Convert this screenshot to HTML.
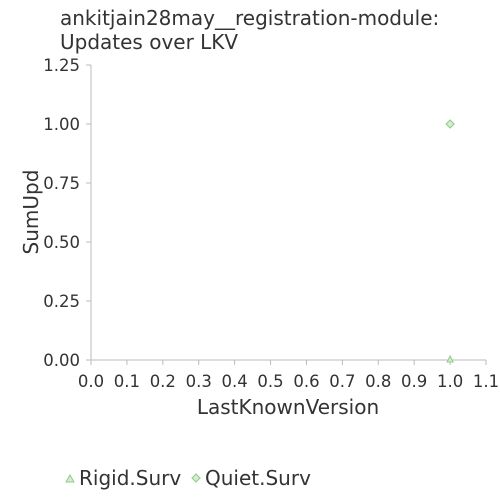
<!DOCTYPE html>
<html><head><meta charset="utf-8"><style>
body{margin:0;background:#fff;font-family:"DejaVu Sans","Liberation Sans",sans-serif;}
svg text{font-family:"DejaVu Sans","Liberation Sans",sans-serif;fill:#333;}
</style></head><body>
<svg width="500" height="500">
<text x="60" y="25" font-size="20">ankitjain28may__registration-module:</text>
<text x="60" y="49" font-size="20">Updates over LKV</text>
<g id="axes"></g>
<g id="marks"></g>
<text x="288" y="414" font-size="20" text-anchor="middle">LastKnownVersion</text>
<text transform="translate(38,212) rotate(-90)" font-size="20" text-anchor="middle">SumUpd</text>
<g>
<polygon points="66,482 70,475 74,482" fill="#d4ecd0" stroke="#8fcb86" stroke-width="1"/>
<text x="79" y="485" font-size="20">Rigid.Surv</text>
<polygon points="196,474 200,478 196,482 192,478" fill="#d4ecd0" stroke="#8fcb86"/>
<text x="205" y="485" font-size="20">Quiet.Surv</text>
</g>
</svg>
<script>
const xTicks=[0,0.1,0.2,0.3,0.4,0.5,0.6,0.7,0.8,0.9,1.0,1.1];
const yTicks=[0,0.25,0.5,0.75,1.0,1.25];
const rigidX=[1.0], rigidY=[0];
const quietX=[1.0], quietY=[1.0];
const X0=91,X1=486,Y0=360,Y1=65;
const sx=v=>X0+(v-0)/(1.1-0)*(X1-X0);
const sy=v=>Y0-(v-0)/(1.25-0)*(Y0-Y1);
const NS="http://www.w3.org/2000/svg";
const axes=document.getElementById('axes'),marks=document.getElementById('marks');
function mk(tag,attrs,parent){const e=document.createElementNS(NS,tag);for(const k in attrs)e.setAttribute(k,attrs[k]);parent.appendChild(e);return e;}
let l=mk('line',{x1:X0,y1:Y0,x2:X1,y2:Y0,stroke:'#bbb'},axes);


l=mk('line',{x1:X0,y1:Y0,x2:X0,y2:Y1,stroke:'#bbb'},axes);


xTicks.forEach(v=>{const x=sx(v);
 const t=mk('line',{x1:x,y1:Y0,x2:x,y2:Y0+5,stroke:'#bbb'},axes);
 
 
 const tx=mk('text',{x:x,y:Y0+27,'font-size':16.5,'text-anchor':'middle'},axes);tx.textContent=v.toFixed(1);
 
 });
yTicks.forEach(v=>{const y=sy(v);
 const t=mk('line',{x1:X0-5,y1:y,x2:X0,y2:y,stroke:'#bbb'},axes);
 
 
 const tx=mk('text',{x:X0-11,y:y+6,'font-size':16.5,'text-anchor':'end'},axes);tx.textContent=v.toFixed(2);
 
 });
rigidX.forEach((v,i)=>{const x=sx(v),y=sy(rigidY[i]);
 const p=mk('polygon',{points:`${x-3},${y+2} ${x},${y-4} ${x+3},${y+2}`,fill:'#d4ecd0',stroke:'#8fcb86'},marks);
 
 });
quietX.forEach((v,i)=>{const x=sx(v),y=sy(quietY[i]);
 const p=mk('polygon',{points:`${x},${y-4} ${x+4},${y} ${x},${y+4} ${x-4},${y}`,fill:'#d4ecd0',stroke:'#8fcb86'},marks);
 
 });
</script>
</body></html>
